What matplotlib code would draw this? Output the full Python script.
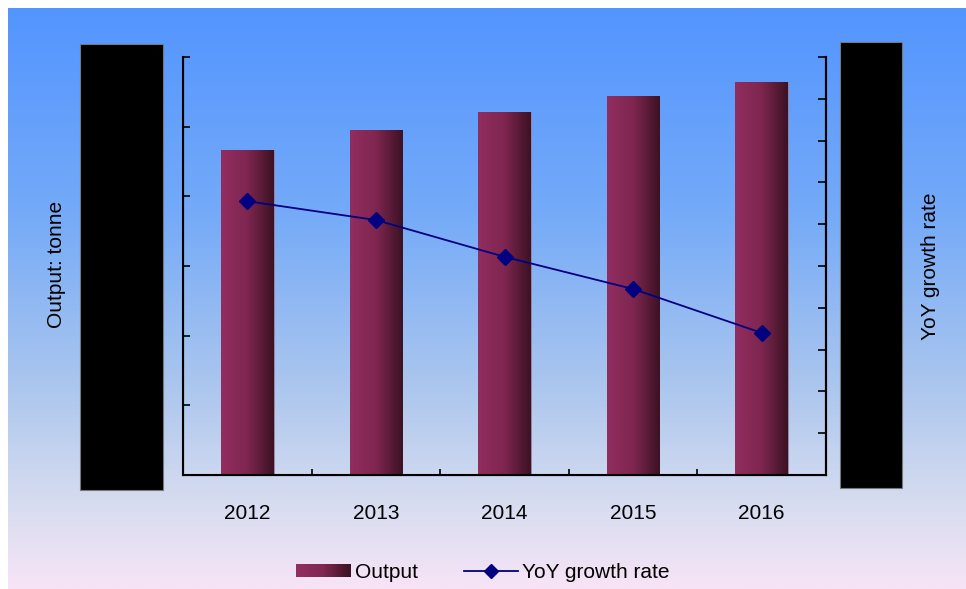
import numpy as np
import matplotlib.pyplot as plt
from matplotlib.colors import LinearSegmentedColormap
from matplotlib.patches import Rectangle
from matplotlib.legend_handler import HandlerPatch
from matplotlib.lines import Line2D

plt.rcParams['font.family'] = ['Liberation Sans', 'DejaVu Sans']

# data (axis values are hidden in the original)
years = ['2012', '2013', '2014', '2015', '2016']
output = [4660, 4950, 5210, 5440, 5640]          # tonne
growth = [6.55, 6.10, 5.22, 4.45, 3.40]          # %

W, H = 966, 589
fig = plt.figure(figsize=(W / 100, H / 100), dpi=100)
fig.patch.set_facecolor('white')

# background gradient panel
bg = fig.add_axes([8 / W, 0, 1 - 8 / W, 1 - 8 / H])
bg_cmap = LinearSegmentedColormap.from_list(
    'bg', [(0, '#5395ff'), (0.35, '#74aaf8'), (0.65, '#abc6ee'),
           (0.85, '#d6dcf0'), (1, '#f7e4f6')])
bg.imshow(np.linspace(0, 1, 256).reshape(-1, 1), cmap=bg_cmap, aspect='auto',
          extent=[0, 1, 0, 1], origin='upper')
bg.set_axis_off()

# main axes
ax = fig.add_axes([183 / W, 1 - 475 / H, (826 - 183) / W, (475 - 57) / H])
ax.patch.set_visible(False)
x = np.arange(len(years))
bar_cmap = LinearSegmentedColormap.from_list('bar', ['#922d60', '#7e2650', '#3c1224'])
bars = ax.bar(x, output, width=0.41, color='#6a2045', edgecolor='#9a8aa8', linewidth=0.6)
grad = np.linspace(0, 1, 64).reshape(1, -1)
for b in bars:
    im = ax.imshow(grad, cmap=bar_cmap, aspect='auto',
                   extent=[b.get_x(), b.get_x() + b.get_width(), 0, b.get_height()],
                   zorder=b.get_zorder() + 0.1)
    im.set_clip_path(b)
ax.set_xlim(-0.5, 4.5)
ax.set_ylim(0, 6000)
ax.set_yticks(np.arange(0, 6001, 1000))
ax.set_xticks(x)
ax.set_xticklabels(years, fontsize=15)
ax.set_xticks(np.arange(-0.5, 4.6, 1), minor=True)
ax.tick_params(axis='x', which='major', length=0, pad=21)
ax.tick_params(axis='x', which='minor', direction='in', length=4, width=1.2)
ax.tick_params(axis='y', direction='in', length=5, width=1.2, labelleft=False)
for s in ['left', 'bottom', 'right']:
    ax.spines[s].set_linewidth(1.5)
ax.spines['top'].set_visible(False)

ax2 = ax.twinx()
ax2.plot(x, growth, color='#000080', lw=1.3, marker='D', ms=8)
ax2.set_ylim(0, 10)
ax2.set_yticks(np.arange(0, 10.1, 1))
ax2.tick_params(axis='y', direction='in', length=6, width=1.2, labelright=False)
ax2.spines['top'].set_visible(False)
ax2.spines['right'].set_linewidth(1.5)

# redaction boxes over tick labels
for (x0, y0, x1, y1) in [(80, 44, 163, 490), (840, 42, 902, 488)]:
    fig.patches.append(Rectangle((x0 / W, 1 - y1 / H), (x1 - x0) / W, (y1 - y0) / H,
                                 transform=fig.transFigure, facecolor='black',
                                 edgecolor='#777777', lw=0.8, zorder=5))

fig.text(57 / W, 1 - 264 / H, 'Output: tonne', rotation=90, ha='center', va='center',
         fontsize=15)
fig.text(930 / W, 1 - 266 / H, 'YoY growth rate', rotation=90, ha='center', va='center',
         fontsize=15)


class GradientHandler(HandlerPatch):
    def create_artists(self, legend, orig_handle, xdescent, ydescent, width, height,
                       fontsize, trans):
        n = 30
        arts = []
        for i in range(n):
            c = bar_cmap(i / (n - 1))
            r = Rectangle((-xdescent + width * i / n, -ydescent), width / n + 0.2, height,
                          facecolor=c, edgecolor='none', transform=trans)
            arts.append(r)
        return arts


h1 = Rectangle((0, 0), 1, 1, facecolor='#6a2045')
h2 = Line2D([], [], color='#000080', lw=1.3, marker='D', ms=7)
fig.legend([h1, h2], ['Output', 'YoY growth rate'], loc='center',
           bbox_to_anchor=(483 / W, 1 - 572 / H), ncol=2, frameon=False, fontsize=15,
           handler_map={h1: GradientHandler()}, handlelength=2.6, handleheight=0.6,
           columnspacing=2.2, handletextpad=0.2)

fig.savefig('out.png', dpi=100)
